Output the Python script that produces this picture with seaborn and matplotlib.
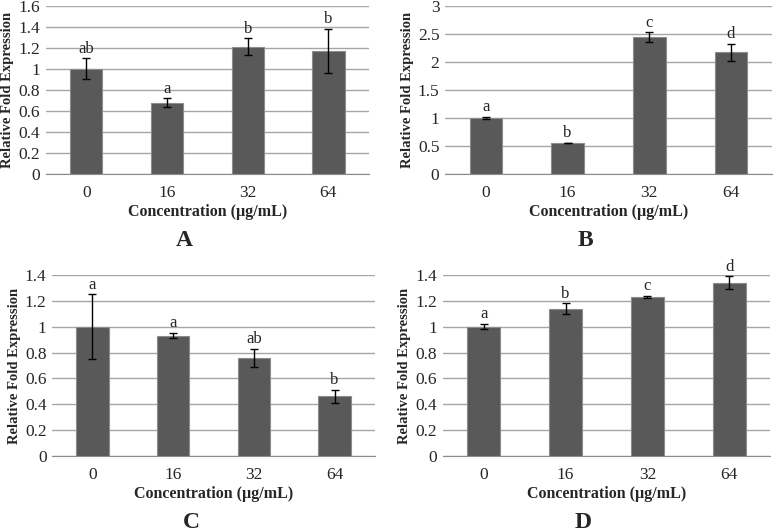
import numpy as np
import pandas as pd
import matplotlib
matplotlib.use('Agg')
import matplotlib.pyplot as plt
import seaborn as sns

# Datos
concentraciones = ['0', '16', '32', '64']

valores_a = [1.00, 0.68, 1.21, 1.17]
errores_a = [0.10, 0.04, 0.08, 0.21]
letras_a = ['ab', 'a', 'b', 'b']

valores_b = [1.00, 0.55, 2.44, 2.17]
errores_b = [0.02, 0.006, 0.09, 0.15]
letras_b = ['a', 'b', 'c', 'd']

valores_c = [1.00, 0.93, 0.76, 0.46]
errores_c = [0.25, 0.02, 0.07, 0.05]
letras_c = ['a', 'a', 'ab', 'b']

valores_d = [1.00, 1.14, 1.23, 1.34]
errores_d = [0.02, 0.04, 0.01, 0.05]
letras_d = ['a', 'b', 'c', 'd']

sns.set_style('white')
plt.rcParams['font.family'] = ['Liberation Serif', 'DejaVu Serif']

fig = plt.figure(figsize=(7.78, 5.32), dpi=100)

paneles = [
    ('A', valores_a, errores_a, letras_a, [0.059, 0.673, 0.415, 0.316], 1.6, 0.2),
    ('B', valores_b, errores_b, letras_b, [0.572, 0.673, 0.420, 0.316], 3.0, 0.5),
    ('C', valores_c, errores_c, letras_c, [0.067, 0.143, 0.415, 0.340], 1.4, 0.2),
    ('D', valores_d, errores_d, letras_d, [0.569, 0.143, 0.421, 0.340], 1.4, 0.2),
]

for nombre, vals, errs, letras, pos, ymax, paso in paneles:
    ax = fig.add_axes(pos)
    df = pd.DataFrame({'conc': concentraciones, 'valor': vals})
    sns.barplot(data=df, x='conc', y='valor', color='#595959', width=0.4,
                edgecolor='#8c8c8c', linewidth=0.8, saturation=1, ax=ax, zorder=3)
    ax.errorbar(np.arange(4), vals, yerr=errs, fmt='none', ecolor='black',
                elinewidth=1, capsize=3, capthick=1, zorder=4)
    for i, (v, e, l) in enumerate(zip(vals, errs, letras)):
        ax.text(i, v + e + ymax * 0.01, l, ha='center', va='bottom', fontsize=12)

    ax.set_xlim(-0.5, 3.5)
    ax.set_ylim(0, ymax)
    ticks = np.arange(0, ymax + paso / 2, paso)
    ax.set_yticks(ticks)
    ax.set_yticklabels(['{:g}'.format(round(t, 2)) for t in ticks], fontsize=12.5)
    ax.yaxis.grid(True, color='#a6a6a6', linewidth=1, zorder=0)
    ax.set_axisbelow(True)

    # ejes estilo Excel
    for s in ['top', 'right', 'left']:
        ax.spines[s].set_visible(False)
    ax.spines['bottom'].set_color('#8c8c8c')
    ax.set_xticks(np.arange(4))
    ax.set_xticklabels(concentraciones, fontsize=12.5)
    ax.tick_params(axis='x', length=0, pad=8)
    ax.tick_params(axis='y', length=0, pad=4)
    ax.set_xticks(np.arange(-0.5, 4, 1), minor=True)
    ax.tick_params(axis='x', which='minor', length=4, color='#8c8c8c', direction='out')

    ax.set_xlabel('Concentration (µg/mL)', fontsize=11.5, fontweight='bold', labelpad=2)
    ax.set_ylabel('Relative Fold Expression', fontsize=10.5, fontweight='bold', labelpad=3)

    fig.text(pos[0] + pos[2] * 0.43, pos[1] - 0.125, nombre, ha='center', va='center',
             fontsize=17, fontweight='bold')

plt.savefig('out.png', dpi=100)
plt.close()
